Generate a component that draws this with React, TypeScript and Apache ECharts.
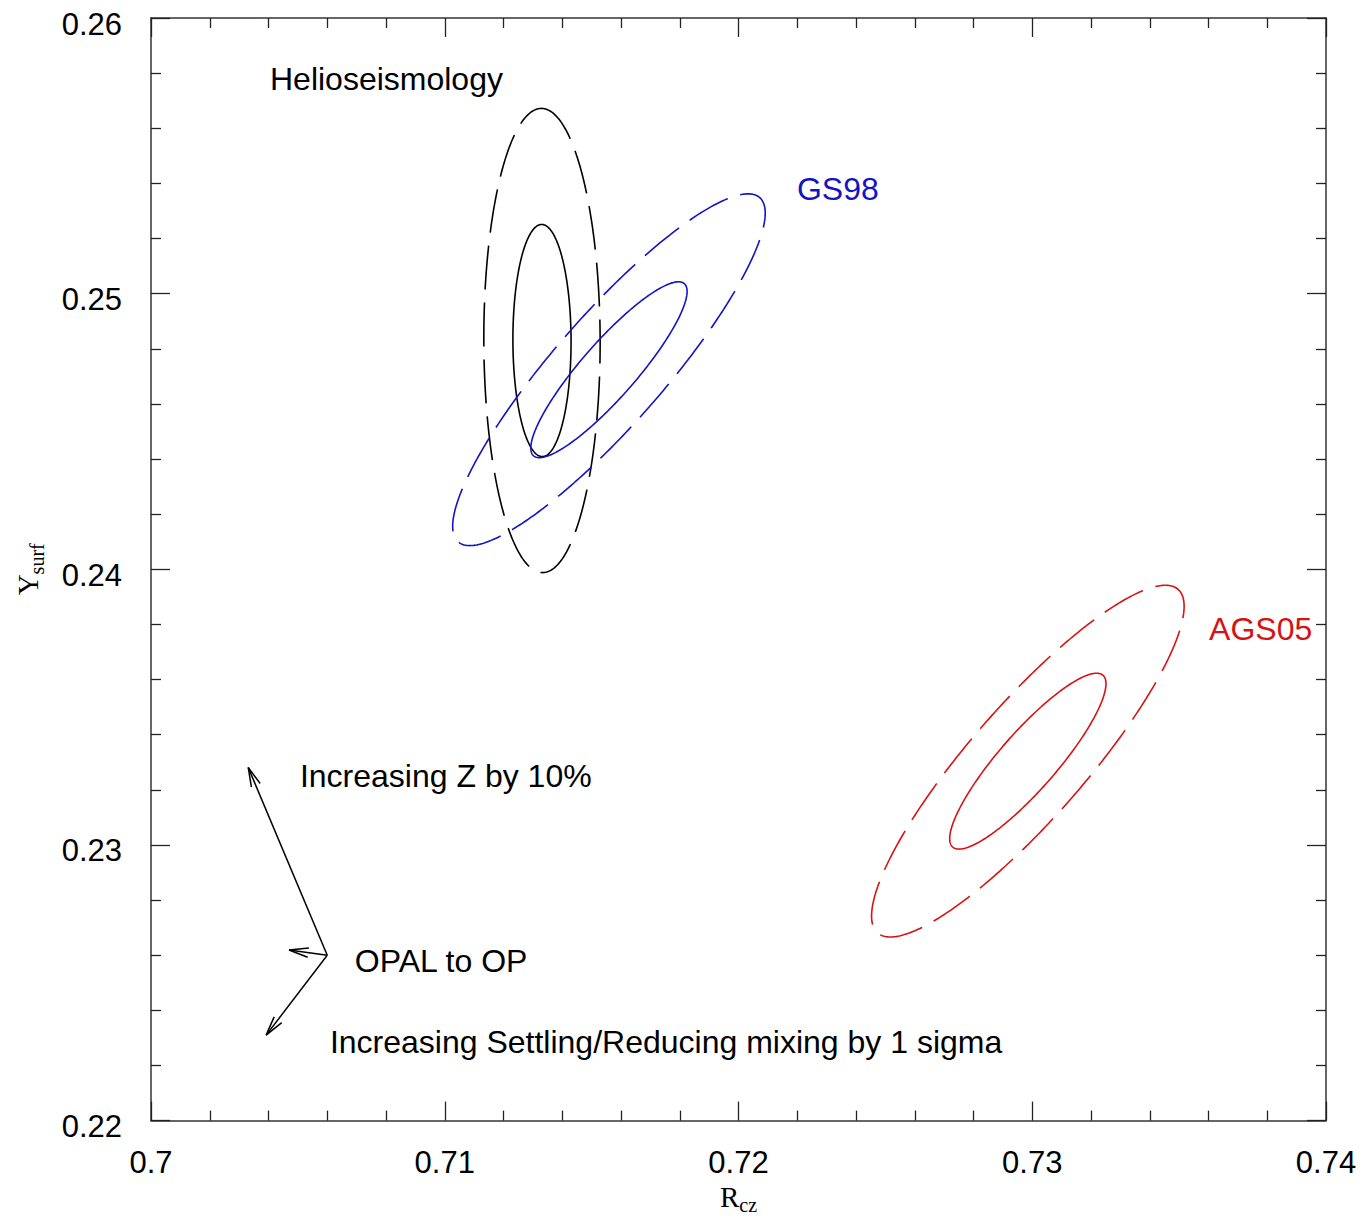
import React, { useEffect, useRef } from "react";
import * as echarts from "echarts";

// ---- axes ----
const xMin = 0.7;
const xMax = 0.74;
const yMin = 0.22;
const yMax = 0.26;
const tickStep = 0.01;

// ---- error ellipses: centre (Rcz, Ysurf), 1-sigma half extents, correlation ----
const ellipseNames = ["Helioseismology", "GS98", "AGS05"];
const ellipseCx = [0.71331, 0.71559, 0.72985];
const ellipseCy = [0.2483, 0.24724, 0.23304];
const ellipseSx = [0.00099, 0.00266, 0.00266];
const ellipseSy = [0.00421, 0.00319, 0.00319];
const ellipseRho = [-0.01, 0.89, 0.88];
const ellipseColors = ["#000000", "#1414c4", "#d81212"];
const contourLevels = [1, 2]; // solid inner, dashed outer

// ---- response arrows ----
const arrowFromX = [0.706, 0.706, 0.706];
const arrowFromY = [0.226, 0.226, 0.226];
const arrowToX = [0.70331, 0.7047, 0.70392];
const arrowToY = [0.23281, 0.22619, 0.2231];

// ---- annotations (left edge, vertical middle) ----
const noteTexts = [
  "Helioseismology",
  "GS98",
  "AGS05",
  "Increasing Z by 10%",
  "OPAL to OP",
  "Increasing Settling/Reducing mixing by 1 sigma",
];
const noteX = [0.70405, 0.72199, 0.73602, 0.70507, 0.70694, 0.70609];
const noteY = [0.2578, 0.2538, 0.23782, 0.2325, 0.22579, 0.22286];
const noteColors = ["#000000", "#1414c4", "#d81212", "#000000", "#000000", "#000000"];

const SANS = '"Liberation Sans", Arial, Helvetica, sans-serif';
const SERIF = '"Liberation Serif", "Times New Roman", serif';

const fmt = (v: number) => String(parseFloat(v.toFixed(3)));

function makeEllipseRender(color: string, dashed: boolean) {
  return (params: any, api: any) => {
    const cx = api.value(0);
    const cy = api.value(1);
    const sx = api.value(2);
    const sy = api.value(3);
    const rho = api.value(4);
    const k = api.value(5);
    const c = api.coord([cx, cy]);
    const a = api.coord([cx + k * rho * sx, cy + k * sy]);
    const b = api.coord([cx + k * sx * Math.sqrt(1 - rho * rho), cy]);
    const ax = a[0] - c[0];
    const ay = a[1] - c[1];
    const bx = b[0] - c[0];
    const by = b[1] - c[1];
    const pts: number[][] = [];
    const N = 360;
    for (let i = 0; i <= N; i++) {
      const t = (2 * Math.PI * i) / N;
      pts.push([
        c[0] + Math.cos(t) * ax + Math.sin(t) * bx,
        c[1] + Math.cos(t) * ay + Math.sin(t) * by,
      ]);
    }
    return {
      type: "polyline",
      shape: { points: pts },
      style: {
        stroke: color,
        lineWidth: 1.6,
        fill: "none",
        lineDash: dashed ? [44, 13] : null,
      },
    };
  };
}

const arrowRender = (params: any, api: any) => {
  const p0 = api.coord([api.value(0), api.value(1)]);
  const p1 = api.coord([api.value(2), api.value(3)]);
  const ang = Math.atan2(p1[1] - p0[1], p1[0] - p0[0]);
  const L = 20;
  const phi = 0.24;
  const h1 = [p1[0] - L * Math.cos(ang - phi), p1[1] - L * Math.sin(ang - phi)];
  const h2 = [p1[0] - L * Math.cos(ang + phi), p1[1] - L * Math.sin(ang + phi)];
  return {
    type: "group",
    children: [
      {
        type: "line",
        shape: { x1: p0[0], y1: p0[1], x2: p1[0], y2: p1[1] },
        style: { stroke: "#000", lineWidth: 1.5 },
      },
      {
        type: "polyline",
        shape: { points: [h1, p1, h2] },
        style: { stroke: "#000", lineWidth: 1.5, fill: "none" },
      },
    ],
  };
};

const noteRender = (params: any, api: any) => {
  const p = api.coord([api.value(0), api.value(1)]);
  const i = params.dataIndex;
  return {
    type: "text",
    x: p[0],
    y: p[1],
    style: {
      text: noteTexts[i],
      fill: noteColors[i],
      font: `32px ${SANS}`,
      align: "left",
      verticalAlign: "middle",
    },
  };
};

const axisLine = { show: true, lineStyle: { color: "#333", width: 1.5 } };
const axisTick = { show: true, inside: true, length: 19, lineStyle: { color: "#222", width: 1.3 } };
const minorTick = { show: true, splitNumber: 5, length: 10, lineStyle: { color: "#222", width: 1.3 } };

export default function App() {
  const ref = useRef<HTMLDivElement>(null);

  useEffect(() => {
    if (!ref.current) return;
    const chart = echarts.init(ref.current, null, { renderer: "svg" });

    const series: any[] = [];
    ellipseNames.forEach((name, i) => {
      contourLevels.forEach((k) => {
        series.push({
          name: `${name} ${k}σ`,
          type: "custom",
          coordinateSystem: "cartesian2d",
          xAxisIndex: 0,
          yAxisIndex: 0,
          clip: false,
          data: [[ellipseCx[i], ellipseCy[i], ellipseSx[i], ellipseSy[i], ellipseRho[i], k]],
          renderItem: makeEllipseRender(ellipseColors[i], k > 1),
          silent: true,
        });
      });
    });
    series.push({
      name: "arrows",
      type: "custom",
      coordinateSystem: "cartesian2d",
      clip: false,
      data: arrowFromX.map((x, i) => [x, arrowFromY[i], arrowToX[i], arrowToY[i]]),
      renderItem: arrowRender,
      silent: true,
    });
    series.push({
      name: "notes",
      type: "custom",
      coordinateSystem: "cartesian2d",
      clip: false,
      data: noteX.map((x, i) => [x, noteY[i]]),
      renderItem: noteRender,
      silent: true,
    });

    chart.setOption({
      animation: false,
      backgroundColor: "#ffffff",
      grid: { left: 151, top: 18, right: 34, bottom: 97, containLabel: false },
      xAxis: [
        {
          type: "value",
          position: "bottom",
          min: xMin,
          max: xMax,
          interval: tickStep,
          axisLine,
          axisTick,
          minorTick,
          splitLine: { show: false },
          axisLabel: { margin: 26, fontSize: 31, fontFamily: SANS, color: "#000", formatter: fmt },
          name: "{r|R}{s|cz}",
          nameLocation: "middle",
          nameGap: 56,
          nameTextStyle: {
            color: "#000",
            rich: {
              r: { fontFamily: SERIF, fontSize: 29, color: "#000" },
              s: { fontFamily: SERIF, fontSize: 20, color: "#000", padding: [16, 0, 0, 0] },
            },
          },
        },
        {
          type: "value",
          position: "top",
          min: xMin,
          max: xMax,
          interval: tickStep,
          axisLine,
          axisTick,
          minorTick,
          splitLine: { show: false },
          axisLabel: { show: false },
        },
      ],
      yAxis: [
        {
          type: "value",
          position: "left",
          min: yMin,
          max: yMax,
          interval: tickStep,
          axisLine,
          axisTick,
          minorTick,
          splitLine: { show: false },
          axisLabel: {
            margin: 29,
            color: "#000",
            formatter: (v: number) => `{t|${fmt(v)}}`,
            rich: {
              t: {
                fontSize: 31,
                fontFamily: SANS,
                color: "#000",
                padding: [12, 0, 0, 0],
              },
            },
          },
          name: "{r|Y}{s|surf}",
          nameLocation: "middle",
          nameRotate: 90,
          nameGap: 104,
          nameTextStyle: {
            color: "#000",
            rich: {
              r: { fontFamily: SERIF, fontSize: 29, color: "#000" },
              s: { fontFamily: SERIF, fontSize: 20, color: "#000", padding: [18, 0, 0, 0] },
            },
          },
        },
        {
          type: "value",
          position: "right",
          min: yMin,
          max: yMax,
          interval: tickStep,
          axisLine,
          axisTick,
          minorTick,
          splitLine: { show: false },
          axisLabel: { show: false },
        },
      ],
      series,
    });

    return () => {
      chart.dispose();
    };
  }, []);

  return (
    <div
      ref={ref}
      style={{ position: "absolute", left: 0, top: 0, width: 1360, height: 1220, background: "#fff" }}
    />
  );
}
